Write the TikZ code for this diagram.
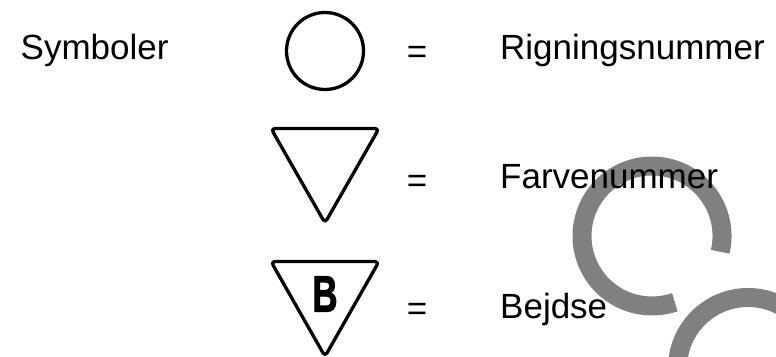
\documentclass[tikz,border=0pt]{standalone}
\usepackage{fontspec}
\setmainfont{Liberation Sans}
\newfontfamily\markfont[FakeBold=2.5]{Liberation Sans Bold}
\usetikzlibrary{shapes.geometric}

\begin{document}
\begin{tikzpicture}[x=1pt, y=1pt,
    sym/.style={draw, line width=3.3pt, inner sep=0pt, outer sep=0pt},
    tri/.style={sym, rounded corners=4pt, line join=round},
    lbl/.style={anchor=base west, inner sep=0pt, font=\fontsize{35}{40}\selectfont},
    eq/.style={anchor=base, inner sep=0pt, font=\fontsize{35}{40}\selectfont},
    wm/.style={draw=black!50, line width=19pt}
]
\useasboundingbox (0,0) rectangle (776,-356);

% watermark letters behind the legend
\begin{scope}
\clip (0,0) rectangle (776,-356);
\draw[wm] (652,-236) ++(-13:70) arc[start angle=-13, end angle=289, radius=70];
\draw[wm] (748,-368) circle[radius=70.5];
\end{scope}

\node[lbl] (title) at (20.5,-59) {Symboler};

\node[sym, circle, minimum size=77pt] (rig) at (325,-51) {};
\draw[tri] (271,-128.5) -- (379,-128.5) -- (325,-223) -- cycle;
\draw[tri] (271,-261.5) -- (379,-261.5) -- (325,-356.5) -- cycle;
\node[inner sep=0pt, font=\fontsize{51}{51}\markfont] (bmark) at (325,-294) {\scalebox{0.68}[1]{B}};

\node[eq] (eqrig) at (417,-63.3) {=};
\node[eq] (eqfarve) at (417,-192.3) {=};
\node[eq] (eqbejdse) at (417,-320.3) {=};

\node[lbl] (txtrig) at (500,-59) {Rigningsnummer};
\node[lbl] (txtfarve) at (500,-188) {Farvenummer};
\node[lbl] (txtbejdse) at (500,-318) {Bejdse};
\end{tikzpicture}
\end{document}
